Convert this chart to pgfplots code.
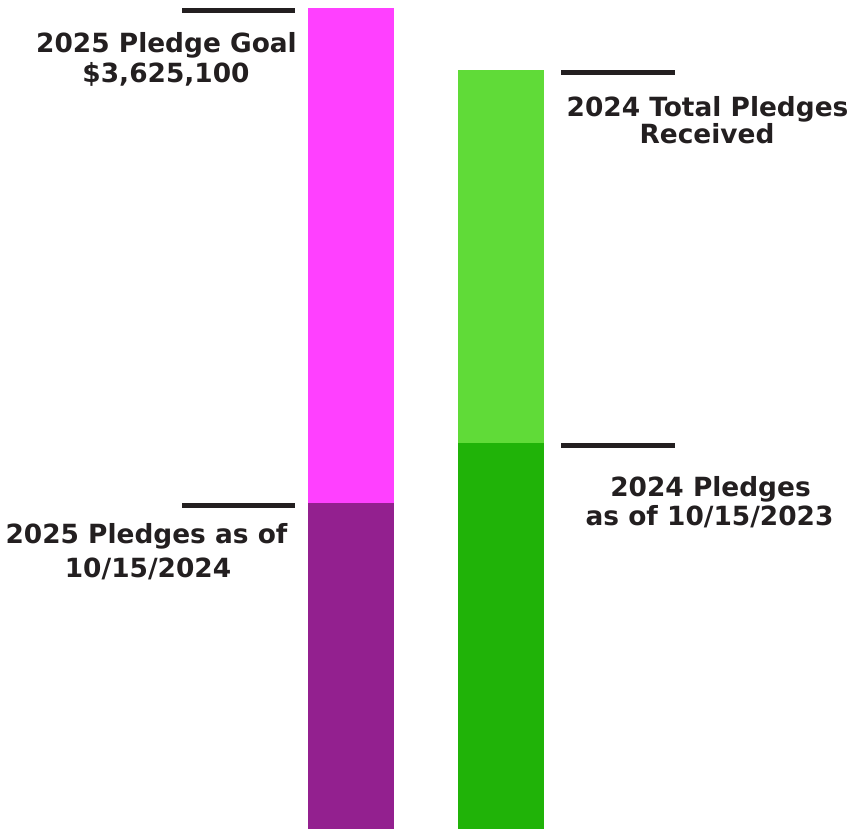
\documentclass[border=0pt]{standalone}
\usepackage{fontspec}
\setmainfont{DejaVu Sans}
\usepackage{pgfplots}
\pgfplotsset{compat=1.18}
\definecolor{goalmag}{HTML}{FF40FF}
\definecolor{curpurp}{HTML}{93208F}
\definecolor{lightgr}{HTML}{60DB38}
\definecolor{darkgr}{HTML}{20B308}
\definecolor{ink}{HTML}{231F20}
\tikzset{lbl/.style={anchor=base, font=\fontsize{26.5}{30}\selectfont\bfseries, text=ink, inner sep=0pt}}
\begin{document}
\begin{tikzpicture}
\begin{axis}[
  width=854bp, height=829bp, scale only axis,
  xmin=0, xmax=854, ymin=0, ymax=3660424,
  enlargelimits=false, hide axis, clip=false,
  ybar, bar shift=0pt, bar width=86,
]
\path (rel axis cs:0,0) rectangle (rel axis cs:1,1);
% 2025: goal (total) and pledges as of 10/15/2024
\addplot[fill=goalmag, draw=none] coordinates {(351,3625100)};
\addplot[fill=curpurp, draw=none] coordinates {(351,1439400)};
% 2024: total received and pledges as of 10/15/2023
\addplot[fill=lightgr, draw=none] coordinates {(501,3351340)};
\addplot[fill=darkgr, draw=none] coordinates {(501,1704370)};
% marker lines
\addplot[sharp plot, draw=ink, line width=5bp, fill=none] coordinates {(182,3611850) (295,3611850)};
\addplot[sharp plot, draw=ink, line width=5bp, fill=none] coordinates {(182,1427080) (295,1427080)};
\addplot[sharp plot, draw=ink, line width=5bp, fill=none] coordinates {(561,3341190) (675,3341190)};
\addplot[sharp plot, draw=ink, line width=5bp, fill=none] coordinates {(561,1692010) (675,1692010)};
% labels
\node[lbl] at (rel axis cs:0.19496,0.93691) {2025 Pledge Goal};
\node[lbl] at (rel axis cs:0.19438,0.90072) {\$3,625,100};
\node[lbl] at (rel axis cs:0.17155,0.34379) {2025 Pledges as of};
\node[lbl] at (rel axis cs:0.17330,0.30362) {10/15/2024};
\node[lbl] at (rel axis cs:0.82845,0.85923) {2024 Total Pledges};
\node[lbl] at (rel axis cs:0.82787,0.82630) {Received};
\node[lbl] at (rel axis cs:0.83197,0.40084) {2024 Pledges};
\node[lbl] at (rel axis cs:0.83080,0.36586) {as of 10/15/2023};
\end{axis}
\end{tikzpicture}
\end{document}
